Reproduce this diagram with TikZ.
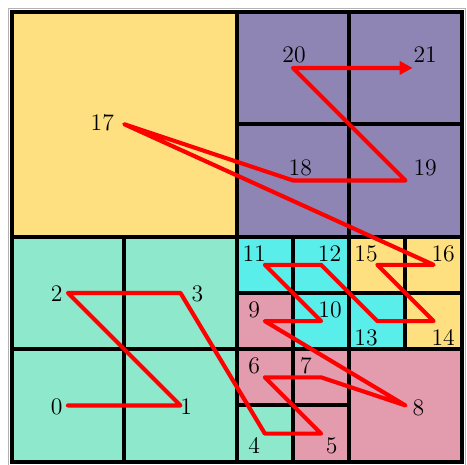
\documentclass[tikz,border=0pt]{standalone}
\usetikzlibrary{arrows.meta}
\definecolor{sand}{HTML}{FEE081}
\definecolor{lilac}{HTML}{8E85B5}
\definecolor{mint}{HTML}{8DE8CC}
\definecolor{aqua}{HTML}{5AEEEB}
\definecolor{rose}{HTML}{E39BAE}
\begin{document}
\begin{tikzpicture}[cell/.style={draw=black,line width=2pt},
 curve/.style={draw=red,line width=2.1pt,line join=round,line cap=round},
 num/.style={inner sep=0pt,font=\large},>={Triangle[length=6.5pt,width=6.6pt]}]
\useasboundingbox (-0.208,-0.041) rectangle (8.094,8.208);
\draw[gray!60,line width=0.4pt] (-0.06,-0.06) rectangle (8.06,8.06);
% leaf cells of the quadtree
\foreach \x/\y/\s/\c in {0/4/4/sand,4/6/2/lilac,6/6/2/lilac,4/4/2/lilac,6/4/2/lilac,
 0/0/2/mint,2/0/2/mint,0/2/2/mint,2/2/2/mint,
 4/0/1/mint,5/0/1/rose,4/1/1/rose,5/1/1/rose,6/0/2/rose,
 4/2/1/rose,5/2/1/aqua,4/3/1/aqua,5/3/1/aqua,
 6/2/1/aqua,7/2/1/sand,6/3/1/sand,7/3/1/sand}
 \draw[cell,fill=\c] (\x,\y) rectangle ++(\s,\s);
% cell centres in curve order
\foreach \i/\x/\y in {0/1/1,1/3/1,2/1/3,3/3/3,4/4.5/.5,5/5.5/.5,6/4.5/1.5,7/5.5/1.5,
 8/7/1,9/4.5/2.5,10/5.5/2.5,11/4.5/3.5,12/5.5/3.5,13/6.5/2.5,14/7.5/2.5,
 15/6.5/3.5,16/7.5/3.5,17/2/6,18/5/5,19/7/5,20/5/7,21/7/7}
 \coordinate (p\i) at (\x,\y);
\draw[curve,->,shorten >=-3.6pt] (p0) \foreach \i in {1,...,21}{ -- (p\i)};
% numbers
\foreach \i/\x/\y in {0/.80/.97,1/3.10/.98,2/.80/2.99,3/3.30/2.99,4/4.31/.28,
 5/5.69/.28,6/4.31/1.70,7/5.23/1.70,8/7.23/.95,9/4.31/2.70,10/5.66/2.70,
 11/4.31/3.70,12/5.65/3.70,13/6.30/2.20,14/7.67/2.20,15/6.30/3.70,
 16/7.67/3.70,17/1.61/6.03,18/5.13/5.23,19/7.35/5.23,20/5.02/7.24,21/7.35/7.24}
 \node[num] (n\i) at (\x,\y) {\i};
\end{tikzpicture}
\end{document}
